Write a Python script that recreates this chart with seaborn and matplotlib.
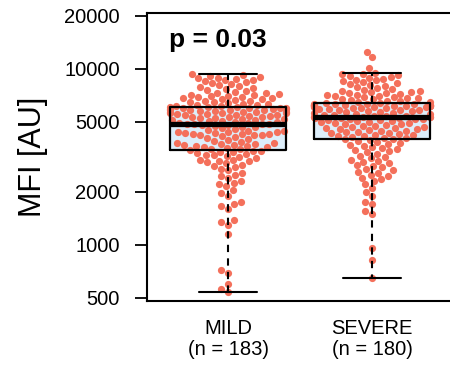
import matplotlib
matplotlib.use("Agg")
import matplotlib.pyplot as plt
import numpy as np
import pandas as pd
import seaborn as sns

groups = ["MILD", "SEVERE"]
group_labels = ["MILD\n(n = 183)", "SEVERE\n(n = 180)"]

mild = [
    540, 560, 600, 690, 720, 1150, 1300, 1350, 1380, 1600,
    1650, 1700, 1750, 1900, 1980, 2050, 2150, 2200, 2250, 2300,
    2400, 2450, 2500, 2550, 2650, 2700, 2750, 2800, 2850, 2900,
    2950, 2980, 3000, 3020, 3050, 3100, 3150, 3200, 3220, 3250,
    3300, 3320, 3350, 3380, 3400, 3430,
    3470, 3500, 3520, 3550, 3580, 3600, 3620, 3650, 3680, 3700,
    3720, 3750, 3780, 3800, 3850, 3900, 3950, 4000, 4050, 4100,
    4150, 4180, 4200, 4220, 4250, 4260, 4280, 4300, 4320, 4350,
    4380, 4400, 4420, 4450, 4500, 4550, 4600, 4650, 4700, 4750,
    4780, 4800, 4830, 4850, 4870, 4890,
    4920, 4950, 4980, 5000, 5030, 5060, 5100, 5130, 5160, 5200,
    5230, 5260, 5300, 5330, 5360, 5400, 5420, 5450, 5480, 5500,
    5520, 5550, 5580, 5600, 5620, 5650, 5680, 5700, 5720, 5750,
    5780, 5800, 5820, 5850, 5870, 5900, 5920, 5940, 5960, 5980,
    6000, 6020, 6040, 6060, 6080,
    6120, 6150, 6200, 6250, 6300, 6350, 6400, 6450, 6500, 6550,
    6600, 6650, 6700, 6750, 6800, 6850, 6900, 6950, 7000, 7050,
    7100, 7150, 7200, 7250, 7300, 7400, 7500, 7600, 7700, 7800,
    7900, 8000, 8100, 8200, 8300, 8400, 8500, 8600, 8700, 8800,
    8850, 8900, 9000, 9100, 9200, 9300,
]

severe = [
    650, 820, 960, 1500, 1550, 1700, 1750, 1900, 2000, 2100,
    2200, 2300, 2350, 2400, 2450, 2500, 2550, 2600, 2650, 2700,
    2750, 2800, 2850, 2900, 2950, 3000, 3050, 3100, 3150, 3200,
    3300, 3350, 3400, 3450, 3500, 3550, 3600, 3650, 3700, 3750,
    3800, 3850, 3900, 3940, 3970,
    4000, 4030, 4060, 4100, 4130, 4160, 4200, 4230, 4260, 4300,
    4330, 4360, 4400, 4430, 4460, 4500, 4530, 4560, 4600, 4630,
    4660, 4700, 4730, 4760, 4800, 4830, 4860, 4900, 4930, 4960,
    5000, 5030, 5060, 5100, 5130, 5160, 5200, 5220, 5240, 5260,
    5280, 5300, 5310, 5320, 5330,
    5350, 5380, 5400, 5430, 5460, 5500, 5530, 5560, 5600, 5630,
    5660, 5700, 5730, 5760, 5800, 5830, 5860, 5900, 5930, 5960,
    6000, 6020, 6050, 6080, 6100, 6120, 6140, 6150, 6160, 6170,
    6180, 6190, 6200, 6210, 6220, 6230, 6240, 6250, 6260, 6280,
    6300, 6320, 6350, 6380, 6420,
    6460, 6500, 6550, 6600, 6650, 6700, 6750, 6800, 6850, 6900,
    6950, 7000, 7050, 7100, 7150, 7200, 7250, 7300, 7350, 7400,
    7450, 7500, 7600, 7700, 7800, 7900, 8000, 8100, 8200, 8300,
    8400, 8500, 8600, 8700, 8800, 8900, 9000, 9100, 9200, 9300,
    9400, 9500, 10100, 11700, 12500,
]

y_ticks = [500, 1000, 2000, 5000, 10000, 20000]
p_text = "p = 0.03"

df = pd.DataFrame({
    "group": [groups[0]] * len(mild) + [groups[1]] * len(severe),
    "mfi": mild + severe,
})

sns.set_style("white")
plt.rcParams["font.family"] = ["Liberation Sans", "DejaVu Sans"]
plt.rcParams["text.color"] = "black"
plt.rcParams["axes.labelcolor"] = "black"
plt.rcParams["xtick.color"] = "black"
plt.rcParams["ytick.color"] = "black"

fig = plt.figure(figsize=(4.5, 3.68), dpi=100)
ax = fig.add_axes([147 / 450, 1 - 301 / 368, 310 / 450, 288 / 368])

# box stats on raw values (like R), so both boxplots go before the log scale
sns.boxplot(data=df, x="group", y="mfi", order=groups, width=0.8,
            color="#DDEEFA", saturation=1, showfliers=False, linewidth=0,
            whis=1.5, ax=ax)
for p in ax.patches:
    p.set_zorder(0.5)
    p.set_edgecolor("none")
for ln in ax.lines:
    ln.set_visible(False)

n_lines = len(ax.lines)
sns.boxplot(data=df, x="group", y="mfi", order=groups, width=0.8,
            fill=False, showfliers=False, whis=1.5, ax=ax,
            boxprops={"color": "black", "linewidth": 1.6},
            whiskerprops={"color": "black", "linewidth": 1.5,
                          "linestyle": (0, (3.5, 3))},
            capprops={"color": "black", "linewidth": 1.5},
            medianprops={"color": "black", "linewidth": 3.8})
for ln in ax.lines[n_lines:]:
    ln.set_zorder(3)

ax.set_yscale("log")
ax.set_ylim(478, 20800)
ax.set_xlim(-0.5625, 1.59)

sns.swarmplot(data=df, x="group", y="mfi", order=groups, color="#F4705B",
              size=5.2, ax=ax, zorder=1.5, warn_thresh=1)

ax.set_ylim(478, 20800)
ax.set_xlim(-0.5625, 1.59)
ax.set_yticks(y_ticks)
ax.set_yticklabels([str(t) for t in y_ticks])
ax.yaxis.set_minor_locator(matplotlib.ticker.NullLocator())
ax.set_xticks([0, 1])
ax.set_xticklabels(group_labels, linespacing=1.1)
ax.tick_params(axis="y", left=True, length=8.5, width=1.3, pad=11,
               labelsize=14.5, colors="black")
ax.tick_params(axis="x", length=0, pad=13, labelsize=14.5, colors="black")
ax.set_xlabel("")
ax.set_ylabel("MFI [AU]", fontsize=22, labelpad=12, color="black")
for s in ax.spines.values():
    s.set_color("black")
    s.set_linewidth(1.5)

ax.text(-0.41, 13300, p_text, fontsize=19, fontweight="bold",
        va="baseline", ha="left", color="black")

fig.savefig("out.png", dpi=100)
